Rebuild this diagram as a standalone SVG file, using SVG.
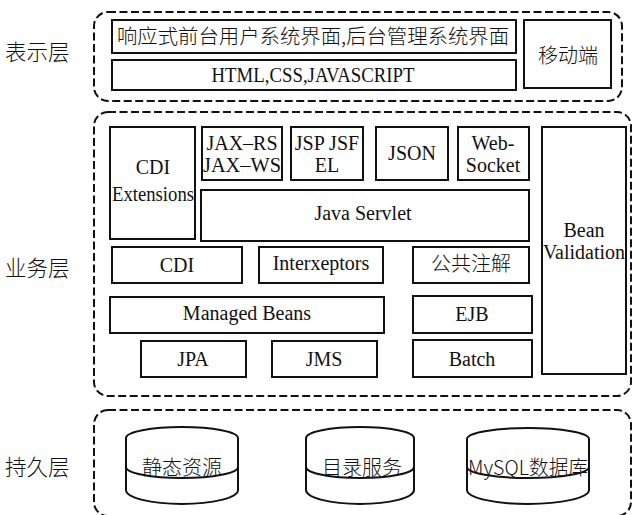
<svg xmlns="http://www.w3.org/2000/svg" width="633" height="515" viewBox="0 0 633 515">
<style>
.layer{fill:none;stroke:#111;stroke-width:2;stroke-dasharray:8 3.5}
.box{fill:#fff;stroke:#111;stroke-width:2}
.t{font-family:'Liberation Serif','DejaVu Serif',serif;font-size:20px;fill:#111;text-anchor:middle}
.c{font-family:'Noto Sans CJK SC',sans-serif;font-size:20px;fill:#111;text-anchor:middle;font-weight:300}
.lbl{font-family:'Noto Sans CJK SC',sans-serif;font-size:21.5px;fill:#111;font-weight:300}
.cyl{fill:#fff;stroke:#111;stroke-width:2}
.arc{fill:none;stroke:#111;stroke-width:2}
</style>
<rect width="633" height="515" fill="#fff"/>
<g id="layer-presentation">
<rect class="layer" x="94" y="12" width="528" height="89" rx="14"/>
<text class="lbl" x="5" y="60">表示层</text>
</g>
<g id="layer-business">
<rect class="layer" x="94" y="112" width="537" height="284" rx="14"/>
<text class="lbl" x="5" y="276">业务层</text>
</g>
<g id="layer-persistence">
<rect class="layer" x="94" y="410" width="537" height="106" rx="14"/>
<text class="lbl" x="5" y="475">持久层</text>
</g>
<g id="n-ui"><rect class="box" x="112" y="20" width="404" height="33"/><text class="c" x="313" y="44" font-size="20.3" textLength="392" lengthAdjust="spacingAndGlyphs">响应式前台用户系统界面,后台管理系统界面</text></g>
<g id="n-html"><rect class="box" x="112" y="60" width="404" height="30"/><text class="t" x="313" y="82" textLength="203" lengthAdjust="spacingAndGlyphs">HTML,CSS,JAVASCRIPT</text></g>
<g id="n-mobile"><rect class="box" x="524" y="20" width="87" height="68"/><text class="c" x="568" y="63" font-size="21">移动端</text></g>
<g id="n-cdiext"><rect class="box" x="110" y="127" width="85" height="112"/><text class="t" x="153" y="174">CDI</text><text class="t" x="153" y="201" textLength="82" lengthAdjust="spacingAndGlyphs">Extensions</text></g>
<g id="n-jax"><rect class="box" x="202" y="127" width="80" height="53"/><text class="t" x="242" y="150">JAX–RS</text><text class="t" x="242" y="172" textLength="78" lengthAdjust="spacingAndGlyphs">JAX–WS</text></g>
<g id="n-jsp"><rect class="box" x="291" y="127" width="72" height="53"/><text class="t" x="327" y="150">JSP JSF</text><text class="t" x="327" y="172">EL</text></g>
<g id="n-json"><rect class="box" x="376" y="127" width="72" height="53"/><text class="t" x="412" y="160">JSON</text></g>
<g id="n-websocket"><rect class="box" x="458" y="127" width="71" height="53"/><text class="t" x="493" y="150">Web-</text><text class="t" x="493" y="172">Socket</text></g>
<g id="n-servlet"><rect class="box" x="201" y="190" width="328" height="51"/><text class="t" x="363" y="220">Java Servlet</text></g>
<g id="n-bean"><rect class="box" x="542" y="127" width="84" height="247"/><text class="t" x="584" y="237">Bean</text><text class="t" x="584" y="259">Validation</text></g>
<g id="n-cdi"><rect class="box" x="112" y="247" width="130" height="36"/><text class="t" x="177" y="272">CDI</text></g>
<g id="n-inter"><rect class="box" x="259" y="247" width="124" height="36"/><text class="t" x="321" y="270">Interxeptors</text></g>
<g id="n-anno"><rect class="box" x="413" y="247" width="116" height="36"/><text class="c" x="471" y="271">公共注解</text></g>
<g id="n-managed"><rect class="box" x="110" y="297" width="274" height="36"/><text class="t" x="247" y="320">Managed Beans</text></g>
<g id="n-ejb"><rect class="box" x="413" y="296" width="119" height="37"/><text class="t" x="472" y="321">EJB</text></g>
<g id="n-jpa"><rect class="box" x="141" y="341" width="105" height="36"/><text class="t" x="193" y="366">JPA</text></g>
<g id="n-jms"><rect class="box" x="272" y="341" width="105" height="36"/><text class="t" x="324" y="366">JMS</text></g>
<g id="n-batch"><rect class="box" x="413" y="340" width="119" height="37"/><text class="t" x="472" y="366">Batch</text></g>
<g id="n-static">
<path class="cyl" d="M126 438 A56 11 0 0 1 238 438 V490 A56 14 0 0 1 126 490 Z"/>
<path class="arc" d="M126 467 A56 11 0 0 0 238 467"/>
<text class="c" x="182" y="475" font-size="20.5">静态资源</text>
</g>
<g id="n-dir">
<path class="cyl" d="M306 438 A54 11 0 0 1 414 438 V490 A54 14 0 0 1 306 490 Z"/>
<path class="arc" d="M306 467 A54 11 0 0 0 414 467"/>
<text class="c" x="362" y="475" font-size="20.5">目录服务</text>
</g>
<g id="n-mysql">
<path class="cyl" d="M467 439 A61 11 0 0 1 589 439 V490 A61 14 0 0 1 467 490 Z"/>
<path class="arc" d="M467 467 A61 11 0 0 0 589 467"/>
<text class="c" x="528" y="475" font-size="20.5" textLength="120" lengthAdjust="spacingAndGlyphs">MySQL数据库</text>
</g>
<g id="connectors"></g>
</svg>
